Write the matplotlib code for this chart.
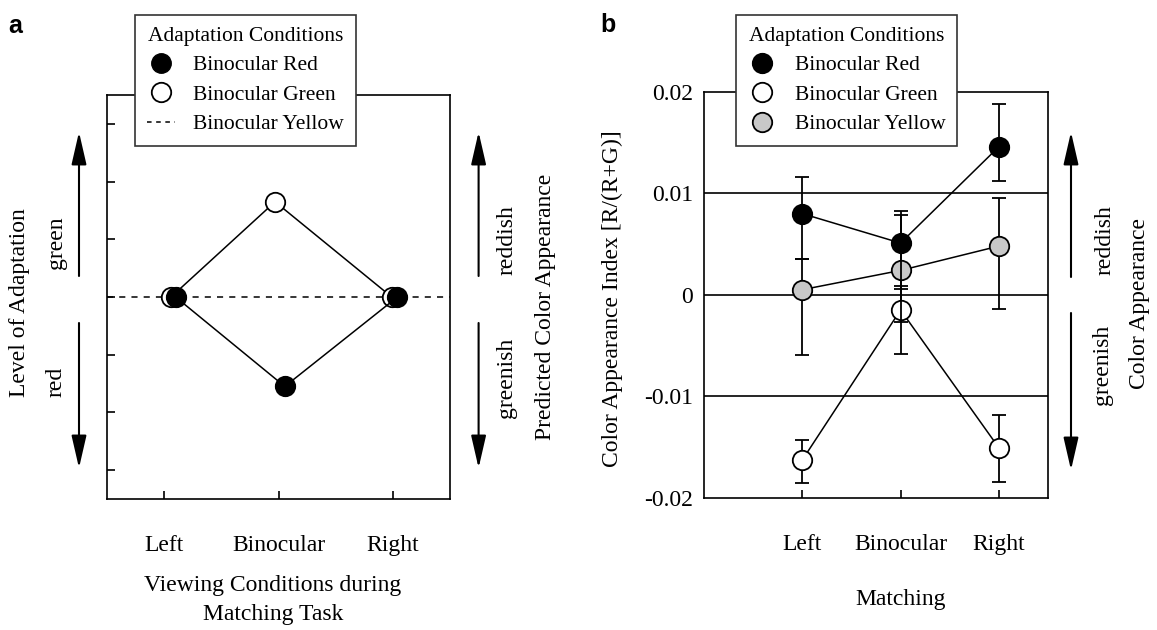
#!/usr/bin/env python3
# Two-panel figure: predicted vs measured colour appearance after adaptation.
import matplotlib
matplotlib.use("Agg")
import matplotlib.pyplot as plt
from matplotlib.lines import Line2D
from matplotlib.patches import FancyArrowPatch

W, H = 1157, 630
SERIF = ["Liberation Serif", "DejaVu Serif"]
plt.rcParams["font.family"] = SERIF

conditions = ["Left", "Binocular", "Right"]
legend_title = "Adaptation Conditions"
series_names = ["Binocular Red", "Binocular Green", "Binocular Yellow"]

# panel a: predicted level of adaptation (arbitrary units), yellow = zero line
pred_green = [0.0, 1.65, 0.0]
pred_red = [0.0, -1.55, 0.0]
pred_yellow = 0.0
jit_green = [0.06, -0.03, -0.01]     # slight horizontal offsets seen in the original
jit_red = [0.10, 0.055, 0.04]

# panel b: colour appearance index R/(R+G), asymmetric errors [lower, upper]
idx_red = [0.0080, 0.0051, 0.0146]
idx_green = [-0.0163, -0.0015, -0.0151]
idx_yellow = [0.0005, 0.0024, 0.0048]
err_red = [[0.0045, 0.0045, 0.0034], [0.0036, 0.0032, 0.0042]]
err_green = [[0.0023, 0.0043, 0.0034], [0.0020, 0.0024, 0.0032]]
err_yellow = [[0.0064, 0.0051, 0.0062], [0.0030, 0.0055, 0.0047]]
b_yticks = [-0.02, -0.01, 0, 0.01, 0.02]
b_yticklabels = ["-0.02", "-0.01", "0", "0.01", "0.02"]

FS = 17
LFS = 15.5
MS = 14
GRAY = "#c8c8c8"


def fx(px):
    return px / W


def fy(py):
    return 1 - py / H


def ftext(fig, x, y, s, rot=0, size=FS, **kw):
    fig.text(fx(x), fy(y), s, rotation=rot, ha="center", va="center",
             fontsize=size, **kw)


def farrow(fig, x, y0, y1):
    fig.add_artist(FancyArrowPatch(
        (fx(x), fy(y0)), (fx(x), fy(y1)), transform=fig.transFigure,
        arrowstyle="-|>,head_length=1.0,head_width=0.23", mutation_scale=20,
        lw=1.5, color="k", shrinkA=0, shrinkB=0))


def legend(ax, fig, handles, x, y):
    lg = ax.legend(handles=handles, labels=series_names, title=legend_title,
                   loc="upper left", bbox_to_anchor=(fx(x), fy(y)),
                   bbox_transform=fig.transFigure, fontsize=LFS,
                   title_fontsize=LFS, frameon=True, fancybox=False,
                   framealpha=1, edgecolor="#333333", borderpad=0.56,
                   labelspacing=0.43, handlelength=1.3, handletextpad=0.86,
                   borderaxespad=0)
    lg.get_frame().set_linewidth(1.2)
    lg.set_zorder(10)
    return lg


fig = plt.figure(figsize=(W / 100, H / 100), dpi=100)

# ---------------- panel a ----------------
axa = fig.add_axes([fx(107), fy(499), fx(450) - fx(107), fy(95) - fy(499)])
xs = list(range(len(conditions)))
axa.axhline(pred_yellow, color="k", lw=1.1, ls=(0, (4, 4)), zorder=1)
axa.plot([i + d for i, d in zip(xs, jit_green)], pred_green, "-o", color="k",
         lw=1.1, ms=MS, mfc="white", mec="k", mew=1.3, zorder=3)
axa.plot([i + d for i, d in zip(xs, jit_red)], pred_red, "-o", color="k",
         lw=1.1, ms=MS, mfc="k", mec="k", mew=1.3, zorder=4)
axa.set_xlim(-0.5, 2.5)
axa.set_ylim(-3.5, 3.5)
axa.set_yticks(range(-3, 4))
axa.set_yticklabels([])
axa.set_xticks(xs)
axa.set_xticklabels(conditions, fontsize=FS)
axa.tick_params(axis="both", direction="in", length=6, width=1.2)
axa.tick_params(axis="x", pad=26)
for s in axa.spines.values():
    s.set_linewidth(1.2)

ha = [Line2D([], [], ls="none", marker="o", ms=MS, mfc="k", mec="k"),
      Line2D([], [], ls="none", marker="o", ms=MS, mfc="white", mec="k", mew=1.3),
      Line2D([], [], color="k", lw=1.1, ls=(0, (3, 3)))]
legend(axa, fig, ha, 134.6, 15)

ftext(fig, 273, 600, "Viewing Conditions during\nMatching Task", linespacing=1.45)
ftext(fig, 20, 303, "Level of Adaptation", rot=90)
ftext(fig, 56, 243, "green", rot=90)
ftext(fig, 56, 382, "red", rot=90)
farrow(fig, 79, 276, 132)
farrow(fig, 79, 323, 468)
farrow(fig, 478.6, 276, 132)
farrow(fig, 478.6, 323, 468)
ftext(fig, 507, 240, "reddish", rot=90)
ftext(fig, 507, 378, "greenish", rot=90)
ftext(fig, 546, 307, "Predicted Color Appearance", rot=90)
fig.text(fx(8), fy(33), "a", fontsize=18, fontweight="bold",
         family=["Liberation Sans", "DejaVu Sans"], va="baseline")

# ---------------- panel b ----------------
axb = fig.add_axes([fx(704), fy(497.5), fx(1048) - fx(704), fy(92) - fy(497.5)])
for yv in b_yticks[1:-1]:
    axb.axhline(yv, color="k", lw=1.2, zorder=1)
ekw = dict(color="k", lw=1.1, ms=MS, mec="k", mew=1.3, capsize=5,
           elinewidth=1.3, capthick=1.3, marker="o")
axb.errorbar(xs, idx_green, yerr=err_green, mfc="white", zorder=3, **ekw)
axb.errorbar(xs, idx_yellow, yerr=err_yellow, mfc=GRAY, zorder=4, **ekw)
axb.errorbar(xs, idx_red, yerr=err_red, mfc="k", zorder=5, **ekw)
axb.set_xlim(-1, 2.5)
axb.set_ylim(-0.02, 0.02)
axb.set_yticks(b_yticks)
axb.set_yticklabels(b_yticklabels, fontsize=FS)
axb.set_xticks(xs)
axb.set_xticklabels(conditions, fontsize=FS)
axb.tick_params(axis="x", direction="in", length=6, width=1.2, pad=26)
axb.tick_params(axis="y", length=0, pad=8)
for s in axb.spines.values():
    s.set_linewidth(1.2)

hb = [Line2D([], [], ls="none", marker="o", ms=MS, mfc=c, mec="k", mew=1.3)
      for c in ["k", "white", GRAY]]
legend(axb, fig, hb, 736, 15)

ftext(fig, 612, 299, "Color Appearance Index [R/(R+G)]", rot=90)
ftext(fig, 901, 600, "Matching")
farrow(fig, 1071, 277, 132)
farrow(fig, 1071, 313, 470)
ftext(fig, 1105, 240, "reddish", rot=90)
ftext(fig, 1103, 365, "greenish", rot=90)
ftext(fig, 1140, 303, "Color Appearance", rot=90)
fig.text(fx(600), fy(32), "b", fontsize=18, fontweight="bold",
         family=["Liberation Sans", "DejaVu Sans"], va="baseline")

fig.savefig("out.png", dpi=100)
